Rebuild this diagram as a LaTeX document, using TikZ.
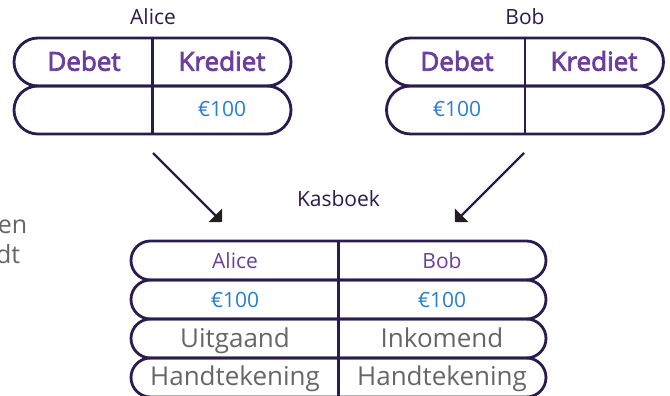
\documentclass[tikz,border=0pt]{standalone}
\usepackage{fontspec}
\setmainfont{Open Sans}
\newfontfamily\semibfont{Open Sans}[FakeBold=3]
\usetikzlibrary{shapes.misc,arrows.meta}
\definecolor{outl}{RGB}{43,27,78}
\definecolor{purp}{RGB}{108,62,158}
\definecolor{blu}{RGB}{38,127,214}
\definecolor{gry}{RGB}{102,102,102}
\definecolor{tipk}{RGB}{35,31,32}
\begin{document}
\begin{tikzpicture}[x=1pt,y=-1pt,
 pill/.style={rounded rectangle, draw=outl, line width=2.8pt, inner sep=0pt},
 bigpill/.style={pill, minimum width=277pt, minimum height=48pt},
 kpill/.style={pill, minimum width=415pt, minimum height=39pt},
 divider/.style={draw=outl, line width=2.8pt},
 title/.style={text=outl, font=\fontsize{21}{25}\selectfont, anchor=base, inner sep=0pt},
 head/.style={text=purp, font=\semibfont\fontsize{26}{30}\selectfont, anchor=base, inner sep=0pt},
 amount/.style={text=blu, font=\fontsize{21}{25}\selectfont, anchor=base, inner sep=0pt},
 kname/.style={text=purp, font=\fontsize{21}{25}\selectfont, anchor=base, inner sep=0pt},
 klabel/.style={text=gry, font=\fontsize{26}{30}\selectfont, anchor=base, inner sep=0pt},
 side/.style={text=gry, font=\fontsize{25}{30}\selectfont, anchor=base east, inner sep=0pt},
 arrowline/.style={draw=outl, line width=2.2pt, -{Triangle[length=9.5pt,width=19pt,color=tipk]}}
]
\useasboundingbox (0,0) rectangle (670,396);

% side text fragments
\node[side] (s1) at (27.5,233.5) {en};
\node[side] (s2) at (20.5,263.5) {dt};

% Alice ledger
\node[title] (atitle) at (153,25) {Alice};
\node[bigpill] (ar1) at (152.5,62) {};
\node[bigpill] (ar2) at (152.5,110) {};
\draw[divider] (ar1.north) -- (ar2.south);
\node[head] (adeb) at (84,70.7) {Debet};
\node[head] (akred) at (222,70.7) {Krediet};
\node[amount] (aamt) at (222,117) {€100};

% Bob ledger
\node[title] (btitle) at (525,25) {Bob};
\node[bigpill] (br1) at (525,62) {};
\node[bigpill] (br2) at (525,110) {};
\draw[divider] (br1.north) -- (br2.south);
\node[head] (bdeb) at (457,70.7) {Debet};
\node[head] (bkred) at (594,70.7) {Krediet};
\node[amount] (bamt) at (457,117) {€100};

% Kasboek
\node[title] (ktitle) at (338.5,206) {Kasboek};
\node[kpill] (k1) at (338.5,260.5) {};
\node[kpill] (k2) at (338.5,299.5) {};
\node[kpill] (k3) at (338.5,338.5) {};
\node[kpill] (k4) at (338.5,377.5) {};
\draw[divider] (k1.north) -- (k4.south);
\node[kname] (kal) at (235,268) {Alice};
\node[kname] (kbo) at (442,268) {Bob};
\node[amount] (kam1) at (235,307) {€100};
\node[amount] (kam2) at (442,307) {€100};
\node[klabel] (kuit) at (235,347) {Uitgaand};
\node[klabel] (kink) at (442,347) {Inkomend};
\node[klabel] (kh1) at (235,385) {Handtekening};
\node[klabel] (kh2) at (442,385) {Handtekening};

% arrows
\coordinate (as) at (153,153);
\coordinate (ae) at (222,222);
\coordinate (bs) at (524,153);
\coordinate (be) at (455,222);
\draw[arrowline] (as) -- (ae);
\draw[arrowline] (bs) -- (be);
\end{tikzpicture}
\end{document}
